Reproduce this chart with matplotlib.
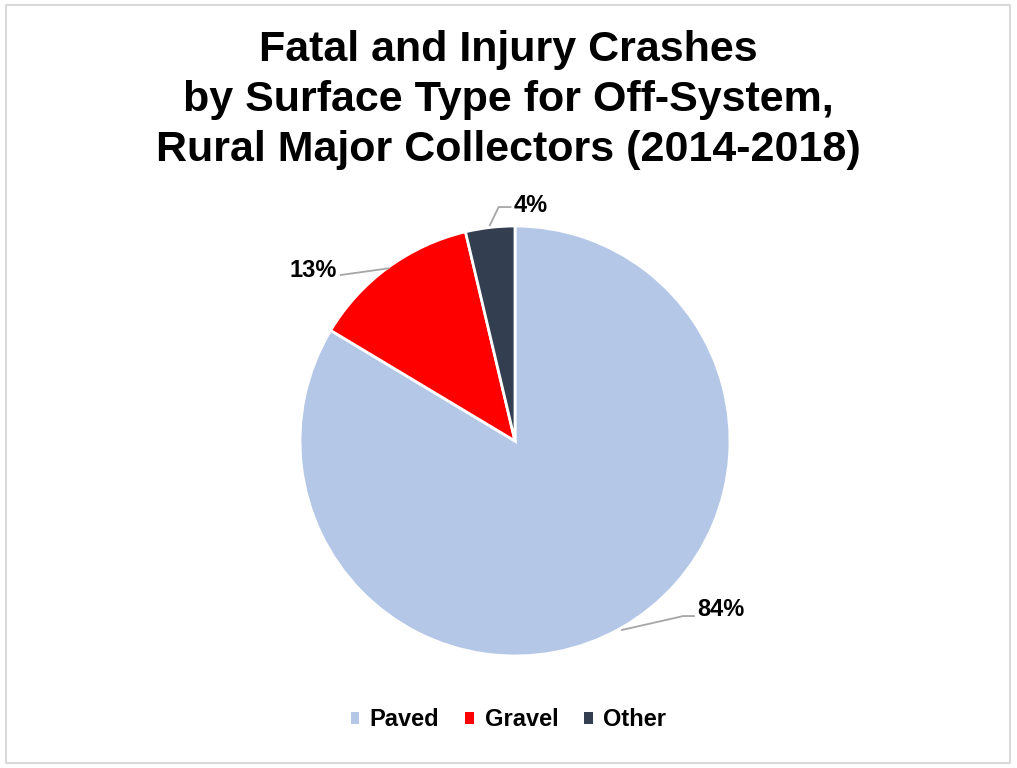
import numpy as np
import matplotlib
matplotlib.use("Agg")
import matplotlib.pyplot as plt
from matplotlib.patches import Rectangle

categories = ["Paved", "Gravel", "Other"]
values = [83.6, 12.7, 3.7]
labels = ["84%", "13%", "4%"]
colors = ["#B4C7E7", "#FF0000", "#333F50"]

plt.rcParams['font.family'] = ['Liberation Sans', 'DejaVu Sans']

fig = plt.figure(figsize=(10.17, 7.68), dpi=100)
fig.patches.append(Rectangle((6/1017, 5/768), 1004/1017, 758/768, transform=fig.transFigure,
                             fill=False, edgecolor="#D9D9D9", linewidth=1.5))

fig.text(0.5, 1 - 100/768, "Fatal and Injury Crashes\nby Surface Type for Off-System,\nRural Major Collectors (2014-2018)",
         ha="center", va="center", fontsize=31, fontweight="bold", linespacing=1.32, color="#000000")

ax = fig.add_axes([300/1017, 112/768, 430/1017, 430/768])
wedges, _ = ax.pie(values, colors=colors, startangle=90, counterclock=False,
                   wedgeprops=dict(edgecolor="white", linewidth=2))
ax.set_xlim(-1, 1)
ax.set_ylim(-1, 1)
ax.set_aspect("equal")
ax.axis("off")

LC = "#A6A6A6"
for i, w in enumerate(wedges):
    mid = np.deg2rad((w.theta1 + w.theta2) / 2)
    x0, y0 = np.cos(mid), np.sin(mid)
    if i == 0:
        ex, ey = x0 + 0.29, y0 + 0.056
        ax.plot([x0 * 1.01, ex, ex + 0.05], [y0 * 1.01, ey, ey], color=LC, lw=1.3, clip_on=False)
        ax.text(ex + 0.065, ey + 0.03, labels[i], ha="left", va="center", fontsize=17, fontweight="bold")
    elif i == 1:
        ex, ey = x0 - 0.22, y0 - 0.035
        ax.plot([x0 * 0.995, ex], [y0 * 0.995, ey], color=LC, lw=1.3, clip_on=False)
        ax.text(ex - 0.02, ey + 0.02, labels[i], ha="right", va="center", fontsize=17, fontweight="bold")
    else:
        ex, ey = x0 + 0.04, y0 + 0.095
        ax.plot([x0 * 1.01, ex, ex + 0.055], [y0 * 1.01, ey, ey], color=LC, lw=1.3, clip_on=False)
        ax.text(ex + 0.07, ey + 0.005, labels[i], ha="left", va="center", fontsize=17, fontweight="bold")

handles = [Rectangle((0, 0), 1, 1, facecolor=c, edgecolor="none") for c in colors]
fig.legend(handles, categories, loc="center", bbox_to_anchor=(0.5, 48/768), ncol=3, frameon=False,
           prop=dict(size=17, weight="bold"), handlelength=0.36, handleheight=0.36,
           handletextpad=0.45, columnspacing=1.1)

fig.savefig("out.png", dpi=100)
